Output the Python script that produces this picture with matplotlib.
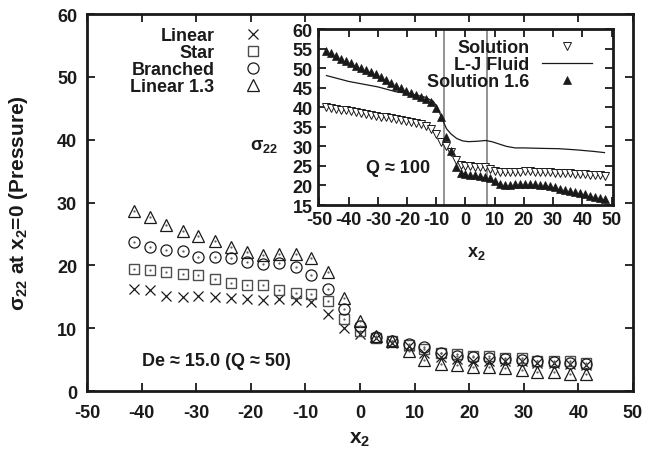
import matplotlib
matplotlib.use("Agg")
import matplotlib.pyplot as plt
from matplotlib.lines import Line2D

plt.rcParams["font.family"] = ["Liberation Sans", "DejaVu Sans"]
plt.rcParams["font.weight"] = "bold"
plt.rcParams["axes.unicode_minus"] = False
plt.rcParams["mathtext.fontset"] = "custom"
plt.rcParams["mathtext.rm"] = "Liberation Sans:bold"
plt.rcParams["mathtext.bf"] = "Liberation Sans:bold"
plt.rcParams["mathtext.it"] = "Liberation Sans:bold"
plt.rcParams["mathtext.default"] = "rm"

INK = "#1a1a1a"

# ---- main panel: De ~ 15 (Q ~ 50) ----
x_main = [-41.4, -38.4, -35.5, -32.5, -29.6, -26.6, -23.7, -20.7, -17.7, -14.8,
          -11.8, -8.9, -5.9, -3.0, 0.0, 3.0, 5.9, 8.9, 11.8, 14.8,
          17.7, 20.7, 23.7, 26.6, 29.6, 32.5, 35.5, 38.4, 41.4]
linear = [16.2, 16.0, 15.2, 15.0, 15.2, 14.9, 14.8, 14.6, 14.5, 14.6,
          14.5, 14.1, 12.3, 10.1, 9.1, 8.4, 7.7, 7.1, 6.1, 5.4,
          5.1, 4.8, 4.8, 4.7, 4.7, 4.5, 4.5, 4.3, 4.1]
star = [19.5, 19.2, 19.0, 18.7, 18.4, 17.8, 17.2, 16.9, 16.8, 16.0,
        15.6, 15.4, 14.4, 11.5, 9.6, 8.5, 7.9, 7.4, 6.7, 6.1,
        5.9, 5.6, 5.5, 5.2, 5.2, 4.8, 4.8, 4.7, 4.5]
branched = [23.7, 23.0, 22.5, 22.3, 21.4, 21.3, 21.1, 20.6, 20.2, 20.3,
            19.7, 18.5, 16.2, 13.1, 10.3, 8.6, 8.0, 7.5, 7.0, 6.0,
            5.6, 5.4, 5.3, 5.1, 5.0, 4.8, 4.6, 4.4, 4.3]
linear13 = [28.6, 27.7, 26.4, 25.5, 24.6, 23.8, 22.9, 22.1, 21.7, 21.8,
            21.8, 21.1, 19.0, 14.8, 11.2, 8.7, 7.9, 6.4, 5.0, 4.3,
            4.1, 3.8, 3.8, 3.6, 3.3, 3.1, 3.0, 2.7, 2.7]

# ---- inset: Q ~ 100 ----
x_in = [-47.6, -45.9, -44.2, -42.5, -40.8, -39.1, -37.4, -35.7, -34.0, -32.3,
        -30.6, -28.9, -27.2, -25.5, -23.8, -22.1, -20.4, -18.7, -17.0, -15.3,
        -13.6, -11.9, -10.2, -8.5, -6.8, -5.1, -3.4, -1.7, 0.0, 1.7,
        3.4, 5.1, 6.8, 8.5, 10.2, 11.9, 13.6, 15.3, 17.0, 18.7,
        20.4, 22.1, 23.8, 25.5, 27.2, 28.9, 30.6, 32.3, 34.0, 35.7,
        37.4, 39.1, 40.8, 42.5, 44.2, 45.9, 47.6]
solution = [40.1, 39.9, 39.6, 39.4, 39.2, 39.0, 38.8, 38.5, 38.3, 38.0,
            37.8, 37.6, 37.4, 37.2, 37.0, 36.7, 36.5, 36.2, 36.0, 35.6,
            35.2, 34.5, 33.2, 31.2, 30.0, 28.6, 26.5, 25.3, 25.0, 24.9,
            24.8, 24.8, 24.7, 24.3, 23.8, 23.5, 23.4, 23.4, 23.5, 23.5,
            23.6, 23.6, 23.5, 23.5, 23.4, 23.4, 23.3, 23.3, 23.2, 23.1,
            23.0, 23.0, 22.9, 22.8, 22.7, 22.6, 22.5]
solution16 = [54.5, 53.9, 53.2, 52.4, 51.7, 51.2, 50.6, 50.0, 49.5, 49.0,
              48.6, 47.8, 47.0, 46.1, 45.4, 45.0, 44.2, 43.6, 43.2, 42.6,
              42.2, 41.3, 39.8, 37.5, 32.5, 28.9, 24.8, 23.3, 23.0, 22.8,
              22.6, 22.4, 22.2, 21.9, 21.2, 20.3, 20.1, 20.1, 20.3, 20.4,
              20.5, 20.4, 20.3, 20.1, 20.0, 19.8, 19.5, 19.2, 18.9, 18.6,
              18.3, 18.0, 17.7, 17.4, 17.1, 16.8, 16.5]
x_lj = [-47.6, -40.0, -30.0, -24.0, -18.0, -14.0, -11.0, -9.5, -8.0, -6.5,
        -5.0, -3.0, -1.0, 1.0, 4.0, 7.0, 9.0, 11.5, 14.0, 17.0,
        20.0, 25.0, 32.0, 38.0, 44.0, 47.6]
lj_fluid = [48.1, 46.6, 45.2, 44.0, 43.3, 42.6, 41.5, 39.8, 37.0, 34.5,
            33.2, 32.0, 31.4, 31.2, 31.3, 31.5, 31.2, 30.6, 30.0, 29.6,
            29.6, 29.5, 29.4, 29.1, 28.7, 28.4]
interfaces = [-7.5, 7.5]

main_ticks_x = [-50, -40, -30, -20, -10, 0, 10, 20, 30, 40, 50]
main_ticks_y = [0, 10, 20, 30, 40, 50, 60]
inset_ticks_x = [-50, -40, -30, -20, -10, 0, 10, 20, 30, 40, 50]
inset_ticks_y = [15, 20, 25, 30, 35, 40, 45, 50, 55, 60]

FS = 13

fig = plt.figure(figsize=(6.49, 4.52), dpi=100)
ax = fig.add_axes([0.134, 0.1327, 0.8413, 0.834])

ms = 8
ax.plot(x_main, linear, ls="none", marker="x", ms=ms * 0.95, mew=0.9, color=INK, label="Linear")
ax.plot(x_main, star, ls="none", marker="s", ms=ms * 0.95, mew=1.0, mfc="none", mec="#4d4d4d", label="Star")
ax.plot(x_main, branched, ls="none", marker="o", ms=ms, mew=0.9, mfc="none", mec=INK, label="Branched")
ax.plot(x_main, linear13, ls="none", marker="^", ms=ms, mew=0.9, mfc="none", mec=INK, label="Linear 1.3")
for ys in (star, branched, linear13):
    ax.plot(x_main, ys, ls="none", marker=".", ms=1.2, color="#555555")

ax.set_xlim(-50, 50)
ax.set_ylim(0, 60)
ax.set_xticks(main_ticks_x)
ax.set_yticks(main_ticks_y)
ax.tick_params(direction="in", length=6, width=1.3, top=True, right=True,
               labelsize=FS, colors=INK)
ax.tick_params(axis="x", pad=9)
ax.tick_params(axis="y", pad=7)
for lab in ax.get_xticklabels() + ax.get_yticklabels():
    lab.set_fontweight("bold")
for s in ax.spines.values():
    s.set_linewidth(2.0)
    s.set_color(INK)

ax.set_xlabel("x$_{2}$", fontsize=15, fontweight="bold", color=INK)
ax.xaxis.set_label_coords(0.5, -0.10)
ax.set_ylabel("σ$_{22}$ at x$_{2}$=0 (Pressure)", fontsize=15, fontweight="bold", color=INK)
ax.yaxis.set_label_coords(-0.105, 0.5)

ax.text(-40, 4.8, "De ≈ 15.0 (Q ≈ 50)", fontsize=FS, fontweight="bold",
        color=INK, ha="left", va="center")

handles = [
    Line2D([], [], ls="none", marker="x", ms=ms * 0.95, mew=0.9, color=INK),
    Line2D([], [], ls="none", marker="s", ms=ms * 0.95, mew=1.0, mfc="none", mec="#4d4d4d"),
    Line2D([], [], ls="none", marker="o", ms=ms, mew=0.9, mfc="none", mec=INK),
    Line2D([], [], ls="none", marker="^", ms=ms, mew=0.9, mfc="none", mec=INK),
]
leg = ax.legend(handles, ["Linear", "Star", "Branched", "Linear 1.3"],
                loc="upper left", bbox_to_anchor=(0.066, 0.985), frameon=False,
                markerfirst=False, handlelength=2.7, handletextpad=0.8,
                labelspacing=0.0, borderaxespad=0.0, fontsize=FS)
for t in leg.get_texts():
    t.set_fontweight("bold")
    t.set_color(INK)

# ---- inset axes ----
axi = fig.add_axes([0.490, 0.5442, 0.4545, 0.3894])
axi.set_facecolor("white")
for xv in interfaces:
    axi.axvline(xv, color="#777777", lw=1.1, zorder=1)
axi.plot(x_in, solution, ls="none", marker="v", ms=5.2, mew=0.7, mfc="white", mec=INK, zorder=3)
axi.plot(x_lj, lj_fluid, color=INK, lw=0.9, zorder=2)
axi.plot(x_in, solution16, ls="none", marker="^", ms=5.6, mew=0.5, color=INK, zorder=3)

axi.set_xlim(-50.5, 50.5)
axi.set_ylim(15, 60)
axi.set_xticks(inset_ticks_x)
axi.set_yticks(inset_ticks_y)
axi.tick_params(direction="in", length=6, width=1.3, top=True, right=True,
                labelsize=FS, colors=INK, pad=4)
for lab in axi.get_xticklabels() + axi.get_yticklabels():
    lab.set_fontweight("bold")
for s in axi.spines.values():
    s.set_linewidth(2.0)
    s.set_color(INK)

axi.set_xlabel("x$_{2}$", fontsize=FS, fontweight="bold", color=INK)
axi.xaxis.set_label_coords(0.536, -0.22)
axi.set_ylabel("σ$_{22}$", fontsize=FS, fontweight="bold", color=INK, rotation=0,
               ha="center", va="center")
axi.yaxis.set_label_coords(-0.183, 0.337)
axi.text(-34, 24.7, "Q ≈ 100", fontsize=FS, fontweight="bold", color=INK,
         ha="left", va="center")

ihandles = [
    Line2D([], [], ls="none", marker="v", ms=5.2, mew=0.7, mfc="white", mec=INK),
    Line2D([], [], color=INK, lw=0.9),
    Line2D([], [], ls="none", marker="^", ms=5.6, mew=0.5, color=INK),
]
ileg = axi.legend(ihandles, ["Solution", "L-J Fluid", "Solution 1.6"],
                  loc="upper right", bbox_to_anchor=(0.955, 0.985), frameon=False,
                  markerfirst=False, handlelength=2.8, handletextpad=0.7,
                  labelspacing=0.0, borderaxespad=0.0, fontsize=FS)
for t in ileg.get_texts():
    t.set_fontweight("bold")
    t.set_color(INK)

fig.savefig("out.png", dpi=100)
